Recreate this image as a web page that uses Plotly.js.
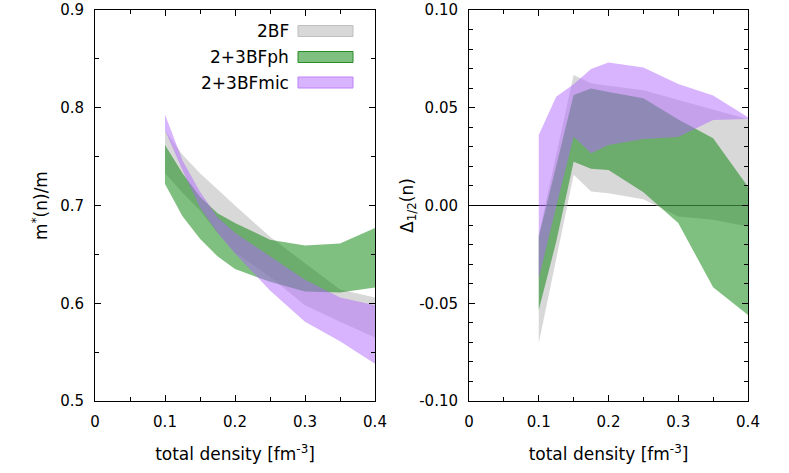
<!DOCTYPE html>
<html>
<head>
<meta charset="utf-8">
<script src="https://cdn.plot.ly/plotly-3.0.1.min.js"></script>
<style>
  html, body { margin: 0; padding: 0; background: #fff; }
  #plot { width: 789px; height: 473px; }
</style>
</head>
<body>
<div id="plot"></div>
<script>
// total density nodes [fm^-3]
const density = [0.1, 0.125, 0.15, 0.175, 0.2, 0.25, 0.3, 0.35, 0.4];

const seriesNames = ["2BF", "2+3BFph", "2+3BFmic"];

// tick labels
const densityTicks = [0, 0.1, 0.2, 0.3, 0.4];
const densityTickText = ["0", "0.1", "0.2", "0.3", "0.4"];
const massTicks = [0.5, 0.6, 0.7, 0.8, 0.9];
const massTickText = ["0.5", "0.6", "0.7", "0.8", "0.9"];
const gapTicks = [-0.1, -0.05, 0, 0.05, 0.1];
const gapTickText = ["-0.10", "-0.05", "0.00", "0.05", "0.10"];

// left panel: m*(n)/m bands (upper / lower edge)
const mass2BFHi = [0.777, 0.752, 0.733, 0.716, 0.700, 0.668, 0.641, 0.614, 0.606];
const mass2BFLo = [0.733, 0.713, 0.695, 0.672, 0.652, 0.627, 0.598, 0.581, 0.565];
const massPhHi = [0.762, 0.733, 0.709, 0.692, 0.682, 0.665, 0.659, 0.661, 0.677];
const massPhLo = [0.722, 0.689, 0.666, 0.648, 0.635, 0.622, 0.612, 0.611, 0.616];
const massMicHi = [0.793, 0.746, 0.714, 0.688, 0.672, 0.648, 0.624, 0.606, 0.598];
const massMicLo = [0.777, 0.736, 0.698, 0.672, 0.651, 0.613, 0.581, 0.561, 0.538];

// right panel: Delta_1/2(n) bands
const gap2BFHi = [-0.015, 0.026, 0.0667, 0.0625, 0.0612, 0.059, 0.054, 0.049, 0.0441];
const gap2BFLo = [-0.0705, -0.027, 0.0157, 0.0072, 0.0063, 0.0032, -0.0056, -0.0073, -0.0107];
const gapPhHi = [-0.016, 0.021, 0.0565, 0.0598, 0.058, 0.0548, 0.044, 0.0344, 0.0096];
const gapPhLo = [-0.0535, -0.0186, 0.0224, 0.0188, 0.0182, 0.0068, -0.009, -0.0418, -0.056];
const gapMicHi = [0.036, 0.0556, 0.062, 0.0698, 0.0732, 0.0706, 0.0622, 0.0563, 0.0452];
const gapMicLo = [-0.0373, -0.0006, 0.0352, 0.0267, 0.031, 0.034, 0.035, 0.0437, 0.0442];

const fills = ["rgba(178,178,178,0.5)", "rgba(0,128,0,0.5)", "rgba(178,104,253,0.5)"];
const borders = ["rgb(190,190,190)", "rgb(40,140,40)", "rgb(190,130,250)"];

function band(hi, lo, i, xa, ya) {
  return {
    x: density.concat(density.slice().reverse()),
    y: hi.concat(lo.slice().reverse()),
    xaxis: xa,
    yaxis: ya,
    type: "scatter",
    mode: "lines",
    fill: "toself",
    fillcolor: fills[i],
    line: { width: 0, color: fills[i] },
    name: seriesNames[i],
    showlegend: false,
    hoverinfo: "skip",
  };
}

const traces = [
  band(mass2BFHi, mass2BFLo, 0, "x", "y"),
  band(massPhHi, massPhLo, 1, "x", "y"),
  band(massMicHi, massMicLo, 2, "x", "y"),
  band(gap2BFHi, gap2BFLo, 0, "x2", "y2"),
  band(gapPhHi, gapPhLo, 1, "x2", "y2"),
  band(gapMicHi, gapMicLo, 2, "x2", "y2"),
];

const tickFont = { family: "DejaVu Sans", size: 15, color: "#000" };
const titleFont = { family: "DejaVu Sans", size: 17, color: "#000" };

function axis(extra) {
  return Object.assign({
    showline: true,
    linecolor: "#000",
    linewidth: 1,
    mirror: "allticks",
    ticks: "inside",
    ticklen: 6,
    tickcolor: "#000",
    showgrid: false,
    zeroline: false,
    tickfont: tickFont,
    tickmode: "array",
    ticklabelstandoff: 7,
  }, extra);
}

// hand-made legend: text on the left, swatch on the right
const plotL = 95, plotW = 653, plotT = 10, plotH = 391;
const px = (v) => (v - plotL) / plotW;
const py = (v) => (plotT + plotH - v) / plotH;
const legendRows = [31, 57, 82.5];

const annotations = [];
const shapes = [];
seriesNames.forEach((name, i) => {
  annotations.push({
    xref: "paper", yref: "paper",
    x: px(291), y: py(legendRows[i]),
    xanchor: "right", yanchor: "middle",
    text: name, showarrow: false, font: titleFont,
  });
  shapes.push({
    type: "rect", xref: "paper", yref: "paper",
    x0: px(298), x1: px(353),
    y0: py(legendRows[i] + 5.5), y1: py(legendRows[i] - 5.5),
    fillcolor: fills[i],
    line: { color: borders[i], width: 1 },
  });
});

const minorX = { tickvals: [0.05, 0.15, 0.25, 0.35], ticks: "inside", ticklen: 4, tickcolor: "#000" };

const layout = {
  width: 789,
  height: 473,
  margin: { l: 95, r: 41, t: 10, b: 72 },
  paper_bgcolor: "#fff",
  plot_bgcolor: "#fff",
  font: tickFont,
  showlegend: false,
  xaxis: axis({
    domain: [0, 280 / 653],
    range: [0, 0.4],
    tickvals: densityTicks,
    ticktext: densityTickText,
    minor: minorX,
    title: { text: "total density [fm<sup>-3</sup>]", font: titleFont, standoff: 18 },
  }),
  yaxis: axis({
    range: [0.5, 0.9],
    tickvals: massTicks,
    ticktext: massTickText,
    minor: { dtick: 0.05, ticks: "inside", ticklen: 4, tickcolor: "#000" },
    title: { text: "m<sup>*</sup>(n)/m", font: titleFont, standoff: 8 },
  }),
  xaxis2: axis({
    anchor: "y2",
    domain: [374 / 653, 1],
    range: [0, 0.4],
    tickvals: densityTicks,
    ticktext: densityTickText,
    minor: minorX,
    title: { text: "total density [fm<sup>-3</sup>]", font: titleFont, standoff: 18 },
  }),
  yaxis2: axis({
    anchor: "x2",
    range: [-0.1, 0.1],
    tickvals: gapTicks,
    ticktext: gapTickText,
    zeroline: true,
    zerolinecolor: "#000",
    zerolinewidth: 1,
    minor: { dtick: 0.01, ticks: "inside", ticklen: 4, tickcolor: "#000" },
    title: { text: "Δ<sub>1/2</sub>(n)", font: titleFont, standoff: 1 },
  }),
  annotations: annotations,
  shapes: shapes,
};

Plotly.newPlot("plot", traces, layout, { displayModeBar: false, staticPlot: true });
</script>
</body>
</html>
